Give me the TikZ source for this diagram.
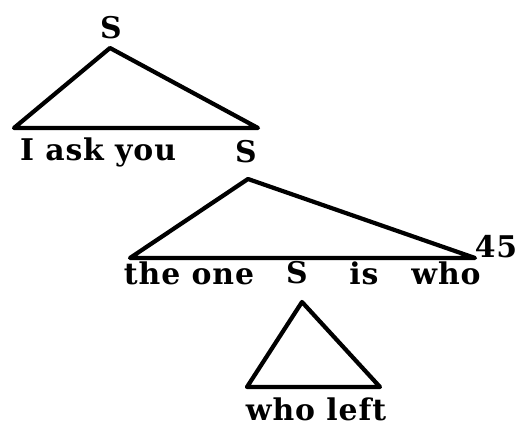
\documentclass[tikz,border=0pt]{standalone}
\usepackage{fontspec}
\setmainfont{DejaVu Serif}[LetterSpace=3]
\usepackage{tikz}
\usetikzlibrary{positioning}

\begin{document}
\begin{tikzpicture}[x=0.02cm, y=-0.02cm,
  word/.style={inner sep=0pt, font=\fontsize{17}{19}\selectfont\bfseries},
  tri/.style={line width=2.4pt, line join=round}]
\useasboundingbox (0,0) rectangle (522,428);
% upper S
\node[word] (s1) at (111,28) {S};
\coordinate (a1) at (110,48);
\coordinate (l1) at (14,128);
\coordinate (r1) at (258,128);
\draw[tri] (a1) -- (l1) -- (r1) -- cycle;
\node[word] (ask) at (98,152) {I ask you};
\node[word] (s2) at (246,152) {S};
% middle S
\coordinate (a2) at (248,179);
\coordinate (l2) at (130,258);
\coordinate (r2) at (475,258);
\draw[tri] (a2) -- (l2) -- (r2) -- cycle;
\node[word] (num) at (496,247) {45};
\node[word] (one) at (189,273) {the one};
\node[word] (s3) at (297,273) {S};
\node[word] (is) at (364,273) {is};
\node[word] (who) at (446,273) {who};
% lower S
\coordinate (a3) at (302,302);
\coordinate (l3) at (247,387);
\coordinate (r3) at (380,387);
\draw[tri] (a3) -- (l3) -- (r3) -- cycle;
\node[word] (left) at (316,409) {who left};
\end{tikzpicture}
\end{document}
